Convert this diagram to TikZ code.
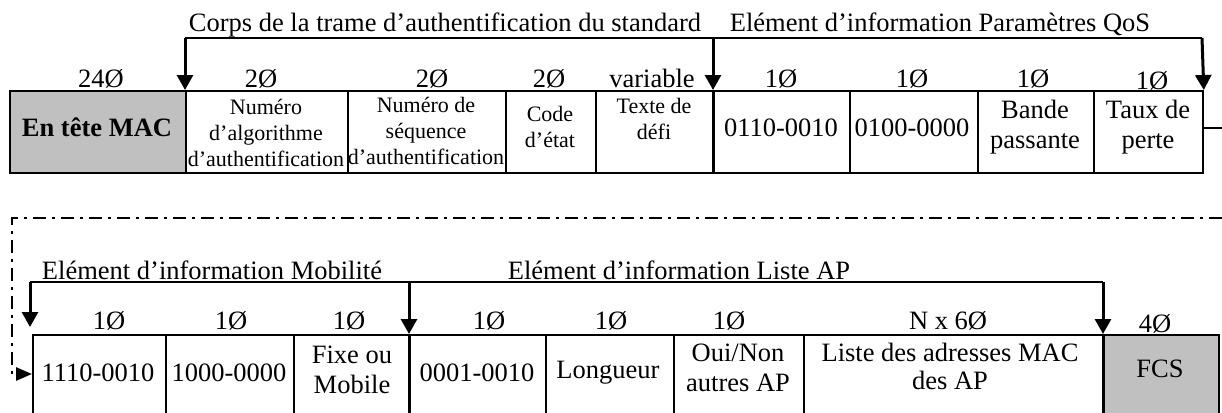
\documentclass[tikz,border=0pt]{standalone}
\usepackage{fontspec}
\setmainfont{Liberation Serif}
\usetikzlibrary{arrows.meta}
\definecolor{cellgray}{RGB}{192,192,192}
\newcommand\mkcell[6]{\node[cell,#6,minimum width={(#4-#2)*1pt},minimum height={(#5-#3)*1pt}] (#1) at (#2,#3) {};}
\begin{document}
\begin{tikzpicture}[x=1pt,y=-1pt,
  cell/.style={draw, line width=1.8pt, inner sep=0pt, anchor=north west},
  big/.style={font=\fontsize{26.5}{30}\selectfont, align=center, inner sep=0pt},
  small/.style={font=\fontsize{22}{26}\selectfont, align=center, inner sep=0pt},
  bracket/.style={line width=2pt},
  shaft/.style={line width=3pt, -{Triangle[width=16pt,length=15pt]}},
  thickedge/.style={line width=3pt},
  dashdot/.style={line width=2.8pt, dash pattern=on 13pt off 6pt on 3pt off 6pt}]
\useasboundingbox (0,0) rectangle (1222,412);
% ---------- top row ----------
\mkcell{mac}{9}{90}{185}{172}{fill=cellgray}
\mkcell{alg}{185}{90}{347}{172}{}
\mkcell{seq}{347}{90}{505}{172}{}
\mkcell{code}{505}{90}{595}{172}{}
\mkcell{defi}{595}{90}{713}{172}{}
\mkcell{qid}{713}{90}{849}{172}{}
\mkcell{qlen}{849}{90}{977}{172}{}
\mkcell{bw}{977}{90}{1093}{172}{}
\mkcell{loss}{1093}{90}{1202}{172}{}
\node[big, font=\fontsize{26.5}{30}\selectfont\bfseries] (tmac) at (97,127) {En tête MAC};
\node[small] (talg) at (266,133) {Numéro\\d’algorithme\\d’authentification};
\node[small] (tseq) at (426,131) {Numéro de\\séquence\\d’authentification};
\node[small] (tcode) at (550,127) {Code\\d’état};
\node[small] (tdefi) at (654,119) {Texte de\\défi};
\node[big] (tqid) at (781,128) {0110-0010};
\node[big] (tqlen) at (912,128) {0100-0000};
\node[big] (tbw) at (1035,127) {Bande\\passante};
\node[big] (tloss) at (1148,127) {Taux de\\perte};
% sizes top
\node[big, anchor=base] (s1) at (101,87) {24Ø};
\node[big, anchor=base] (s2) at (261,87) {2Ø};
\node[big, anchor=base] (s3) at (432,87) {2Ø};
\node[big, anchor=base] (s4) at (549,87) {2Ø};
\node[big, anchor=base] (s5) at (652,87) {variable};
\node[big, anchor=base] (s6) at (781,87) {1Ø};
\node[big, anchor=base] (s7) at (912,87) {1Ø};
\node[big, anchor=base] (s8) at (1033,87) {1Ø};
\node[big, anchor=base] (s9) at (1152,89) {1Ø};
% top brackets
\node[big, anchor=base] (corps) at (445,32) {Corps de la trame d’authentification du standard};
\node[big, anchor=base] (qos) at (940,32) {Elément d’information Paramètres QoS};
\coordinate (tL) at (185,38);
\coordinate (tM) at (713,38);
\coordinate (tR) at (1202,38);
\draw[bracket] (tL) -- (tR);
\draw[shaft] (tL) -- (alg.north west);
\draw[shaft] (tM) -- (qid.north west);
\draw[shaft] (tR) -- (loss.north east);
\draw[thickedge] (qid.north west) -- (qid.south west);
\coordinate (cont) at (1222,128);
\draw[line width=1.8pt] (loss.east |- cont) -- (cont);
% ---------- dash-dot link ----------
\coordinate (dR) at (1222,218);
\coordinate (dL) at (12,218);
\coordinate (dB) at (12,374);
% ---------- bottom row ----------
\mkcell{m1}{32}{334}{165}{414}{}
\mkcell{m2}{165}{334}{293}{414}{}
\mkcell{m3}{293}{334}{409}{414}{}
\mkcell{l1}{409}{334}{545}{414}{}
\mkcell{l2}{545}{334}{673}{414}{}
\mkcell{l3}{673}{334}{803}{414}{}
\mkcell{l4}{803}{334}{1103}{414}{}
\mkcell{fcs}{1103}{334}{1218}{414}{fill=cellgray}
\node[big] (tm1) at (98,373) {1110-0010};
\node[big] (tm2) at (229,373) {1000-0000};
\node[big] (tm3) at (352,370) {Fixe ou\\Mobile};
\node[big] (tl1) at (477,373) {0001-0010};
\node[big] (tl2) at (608,373) {Longueur};
\node[big] (tl3) at (738,368) {Oui/Non\\autres AP};
\node[big, font=\fontsize{26.5}{28}\selectfont] (tl4) at (950,366) {Liste des adresses MAC\\des AP};
\node[big] (tfcs) at (1160,369) {FCS};
% sizes bottom
\node[big, anchor=base] (b1) at (109,329) {1Ø};
\node[big, anchor=base] (b2) at (231,329) {1Ø};
\node[big, anchor=base] (b3) at (349,329) {1Ø};
\node[big, anchor=base] (b4) at (489,329) {1Ø};
\node[big, anchor=base] (b5) at (611,329) {1Ø};
\node[big, anchor=base] (b6) at (729,329) {1Ø};
\node[big, anchor=base] (b7) at (948,329) {N x 6Ø};
\node[big, anchor=base] (b8) at (1155,332) {4Ø};
% bottom brackets
\node[big, anchor=base] (mob) at (212,279) {Elément d’information Mobilité};
\node[big, anchor=base] (lap) at (679,279) {Elément d’information Liste AP};
\coordinate (bL) at (30,282);
\coordinate (bM) at (409,282);
\coordinate (bR) at (1103,282);
\coordinate (bLend) at (30,327);
\draw[bracket] (bL) -- (bR);
\draw[shaft] (bL) -- (bLend);
\draw[shaft] (bM) -- (l1.north west);
\draw[shaft] (bR) -- (fcs.north west);
\draw[thickedge] (l1.north west) -- (l1.south west);
\draw[line width=2.4pt] (fcs.north west) -- (fcs.south west);
% dash-dot connector
\draw[dashdot, -{Triangle[width=13pt,length=16pt]}] (dR) -- (dL) -- (dB) -- (m1.west |- dB);
\end{tikzpicture}
\end{document}
